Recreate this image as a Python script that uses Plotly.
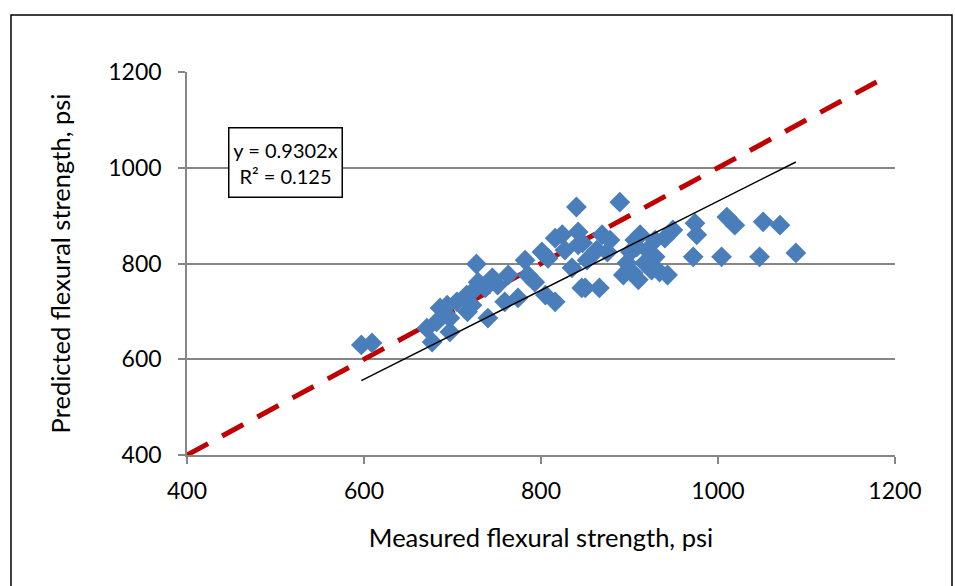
import plotly.graph_objects as go

measured = [597, 609, 671, 677, 682, 686, 694, 697, 697, 705, 716, 717, 722, 722, 727, 729, 737, 740,
            745, 751, 759, 763, 774, 782, 785, 793, 801, 805, 808, 816, 816, 824, 827, 835, 840, 842,
            842, 846, 847, 850, 852, 863, 866, 869, 875, 878, 889, 893, 897, 901, 904, 906, 908, 910,
            912, 917, 920, 925, 929, 929, 934, 940, 943, 949, 972, 974, 976, 1004, 1010, 1019, 1047,
            1051, 1070, 1088]
predicted = [630, 634, 665, 636, 678, 707, 713, 657, 686, 720, 734, 699, 740, 713, 799, 761, 749, 686,
             770, 755, 720, 776, 728, 807, 776, 761, 824, 734, 811, 853, 720, 860, 828, 791, 918, 866,
             839, 749, 843, 749, 807, 828, 749, 860, 824, 849, 928, 776, 801, 824, 780, 849, 834, 766,
             860, 801, 828, 786, 849, 814, 782, 853, 776, 870, 814, 884, 860, 814, 897, 880, 814,
             887, 880, 822]

slope = 0.9302
eq_text = "y = 0.9302x<br>R² = 0.125"
one_to_one = [400, 1185]
x_ticks = [400, 600, 800, 1000, 1200]

fnt = "Lato, Open Sans, sans-serif"

fig = go.Figure()
fig.add_trace(go.Scatter(x=one_to_one, y=one_to_one, mode="lines",
                         line=dict(color="#C00000", width=5, dash="24px,16px"),
                         showlegend=False, hoverinfo="skip"))
fig.add_trace(go.Scatter(x=measured, y=predicted, mode="markers",
                         marker=dict(symbol="diamond", size=16, color="#4A7EBB",
                                     line=dict(width=0)),
                         showlegend=False))
xmin, xmax = min(measured), max(measured)
fig.add_trace(go.Scatter(x=[xmin, xmax], y=[slope * xmin, slope * xmax], mode="lines",
                         line=dict(color="black", width=1.5), showlegend=False))

fig.add_annotation(x=511, y=1012, xref="x", yref="y", text=eq_text, showarrow=False,
                   font=dict(family=fnt, size=20, color="black"),
                   width=104, height=60,
                   bgcolor="white", bordercolor="black", borderwidth=1.5, borderpad=4,
                   align="center", valign="middle")

fig.add_shape(type="rect", xref="paper", yref="paper", x0=-0.2486, x1=1.0805,
              y0=-0.36, y1=1.1488, line=dict(color="black", width=1.5), fillcolor="rgba(0,0,0,0)")

fig.update_layout(
    width=955, height=586,
    margin=dict(l=187, r=60, t=72, b=131),
    paper_bgcolor="white", plot_bgcolor="white",
    font=dict(family=fnt, size=23, color="black"),
    xaxis=dict(range=[400, 1200], tickvals=x_ticks, showgrid=False, zeroline=False,
               showline=True, linecolor="#868686", linewidth=1.5,
               ticks="outside", ticklen=7, tickcolor="#868686", tickwidth=1.5,
               ticklabelstandoff=8,
               title=dict(text="Measured flexural strength, psi", font=dict(size=25.5), standoff=26)),
    yaxis=dict(range=[400, 1200], tickvals=x_ticks, showgrid=True, gridcolor="#868686",
               gridwidth=1.8, zeroline=False, showline=True, linecolor="#868686", linewidth=1.5,
               ticks="outside", ticklen=7, tickcolor="#868686", tickwidth=1.5,
               ticklabelstandoff=12,
               title=dict(text="Predicted flexural strength, psi", font=dict(size=25.5), standoff=30)),
)

fig.write_html("out.html")
